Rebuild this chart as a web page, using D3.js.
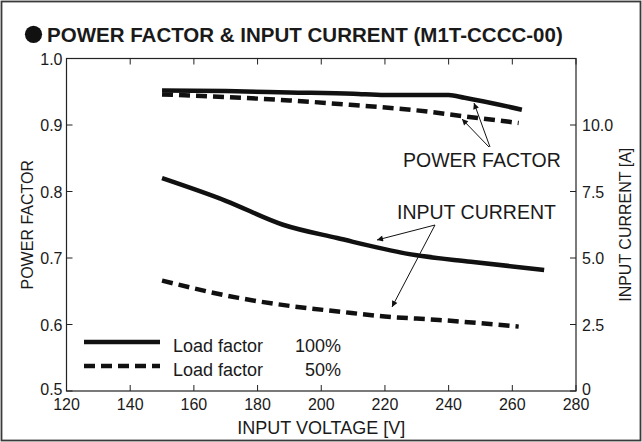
<!DOCTYPE html>
<html><head><meta charset="utf-8">
<script src="https://cdn.jsdelivr.net/npm/d3@7"></script>
<style>body{margin:0;background:#fff}text{font-family:"Liberation Sans",Arial,sans-serif;fill:#1a1a1a}</style>
</head><body><svg id="c" width="642" height="442"></svg>
<script>
const title = "POWER FACTOR & INPUT CURRENT (M1T-CCCC-00)";
const xTicks = [120,140,160,180,200,220,240,260,280];
const pfTicks = [0.5,0.6,0.7,0.8,0.9,1.0];
const curTicks = [0,2.5,5.0,7.5,10.0];
const curTickLabels = ["0","2.5","5.0","7.5","10.0"];
const pf100V = [150,170,190,210,220,240,245,263];
const pf100 = [0.952,0.951,0.949,0.947,0.945,0.945,0.941,0.923];
const pf50V = [150,170,190,210,230,245,262];
const pf50 = [0.946,0.942,0.937,0.930,0.922,0.913,0.903];
const cur100V = [150,170,188,205,230,247,270];
const cur100 = [8.0,7.15,6.25,5.75,5.1,4.86,4.55];
const cur50V = [150,174,190,206,220,237,262];
const cur50 = [4.15,3.5,3.2,2.98,2.8,2.67,2.42];
const legendLabels = ["Load factor","Load factor"];
const legendPct = ["100%","50%"];

const svg = d3.select("#c");
const L=66.5, R=576, T=58.5, B=391;
const x = d3.scaleLinear().domain([120,280]).range([L,R]);
const yPF = d3.scaleLinear().domain([0.5,1.0]).range([B,T]);
const yI = d3.scaleLinear().domain([0,12.5]).range([B,T]);

svg.append("rect").attr("x",1.5).attr("y",1.5).attr("width",639).attr("height",439)
  .attr("fill","none").attr("stroke","#3a3a3a").attr("stroke-width",1.8);

svg.append("circle").attr("cx",33.5).attr("cy",34.3).attr("r",8.6).attr("fill","#111");
const tt = svg.append("text").attr("x",47).attr("y",42).attr("font-size",21).attr("font-weight","bold").text(title);
const nat = tt.node().getComputedTextLength();
const sx = 516/nat;
tt.attr("x",0).attr("transform",`translate(47,0) scale(${sx},1)`);

// frame
svg.append("rect").attr("x",L).attr("y",T).attr("width",R-L).attr("height",B-T)
  .attr("fill","none").attr("stroke","#222").attr("stroke-width",1.2);

const tk=6;
const g = svg.append("g").attr("stroke","#222").attr("stroke-width",1);
xTicks.forEach(v=>{
  g.append("line").attr("x1",x(v)).attr("x2",x(v)).attr("y1",B).attr("y2",B-tk);
  g.append("line").attr("x1",x(v)).attr("x2",x(v)).attr("y1",T).attr("y2",T+tk);
});
pfTicks.forEach(v=>{
  g.append("line").attr("x1",L).attr("x2",L+tk).attr("y1",yPF(v)).attr("y2",yPF(v));
});
curTicks.forEach(v=>{
  g.append("line").attr("x1",R).attr("x2",R-tk).attr("y1",yI(v)).attr("y2",yI(v));
});
const fs=16;
xTicks.forEach(v=>{
  svg.append("text").attr("x",x(v)).attr("y",B+19).attr("text-anchor","middle").attr("font-size",fs).text(v);
});
pfTicks.forEach(v=>{
  svg.append("text").attr("x",L-4).attr("y",v===0.5?B+4:yPF(v)+6).attr("text-anchor","end").attr("font-size",fs).text(v.toFixed(1));
});
curTicks.forEach((v,i)=>{
  svg.append("text").attr("x",R+6).attr("y",v===0?B+4:yI(v)+6).attr("text-anchor","start").attr("font-size",fs).text(curTickLabels[i]);
});
svg.append("text").attr("x",(L+R)/2).attr("y",434).attr("text-anchor","middle").attr("font-size",18).text("INPUT VOLTAGE [V]");
svg.append("text").attr("transform",`translate(33,${(T+B)/2}) rotate(-90)`).attr("text-anchor","middle").attr("font-size",16).text("POWER FACTOR");
svg.append("text").attr("transform",`translate(631,${(T+B)/2}) rotate(-90)`).attr("text-anchor","middle").attr("font-size",16).text("INPUT CURRENT [A]");

const line = (xs,ys,yS)=>d3.line().x((d,i)=>x(xs[i])).y(d=>yS(d)).curve(d3.curveMonotoneX)(ys);
const sw=4.5;
svg.append("path").attr("d",line(pf100V,pf100,yPF)).attr("fill","none").attr("stroke","#111").attr("stroke-width",sw);
svg.append("path").attr("d",line(pf50V,pf50,yPF)).attr("fill","none").attr("stroke","#111").attr("stroke-width",sw).attr("stroke-dasharray","11,6");
svg.append("path").attr("d",line(cur100V,cur100,yI)).attr("fill","none").attr("stroke","#111").attr("stroke-width",sw);
svg.append("path").attr("d",line(cur50V,cur50,yI)).attr("fill","none").attr("stroke","#111").attr("stroke-width",sw).attr("stroke-dasharray","11,6");

// arrow marker
svg.append("defs").append("marker").attr("id","ah").attr("viewBox","0 0 10 10").attr("refX",10).attr("refY",5)
  .attr("markerWidth",9).attr("markerHeight",6).attr("markerUnits","userSpaceOnUse").attr("orient","auto")
  .append("path").attr("d","M0,0L10,5L0,10z").attr("fill","#111");
const arrow=(x1,y1,x2,y2)=>svg.append("line").attr("x1",x1).attr("y1",y1).attr("x2",x2).attr("y2",y2)
  .attr("stroke","#111").attr("stroke-width",1).attr("marker-end","url(#ah)");
arrow(489,147,462,119);
arrow(490,147,474,103);
svg.append("text").attr("x",403).attr("y",167).attr("font-size",19.5).text("POWER FACTOR");
arrow(435,225,377,240);
arrow(435,225,392,307);
svg.append("text").attr("x",397).attr("y",219).attr("font-size",19.5).text("INPUT CURRENT");

// legend
svg.append("line").attr("x1",84).attr("x2",160).attr("y1",342).attr("y2",342).attr("stroke","#111").attr("stroke-width",sw);
svg.append("line").attr("x1",84).attr("x2",160).attr("y1",366).attr("y2",366).attr("stroke","#111").attr("stroke-width",sw).attr("stroke-dasharray","11,6");
[0,1].forEach(i=>{
  svg.append("text").attr("x",173).attr("y",352+i*23.5).attr("font-size",18).text(legendLabels[i]);
  svg.append("text").attr("x",341).attr("y",352+i*23.5).attr("text-anchor","end").attr("font-size",18).text(legendPct[i]);
});
</script></body></html>
